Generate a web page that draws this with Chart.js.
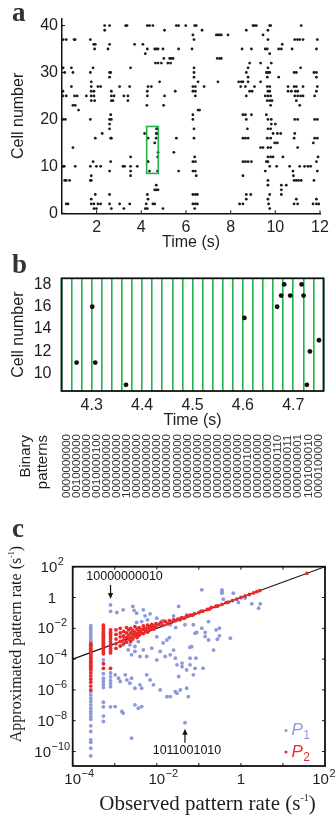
<!DOCTYPE html>
<html>
<head>
<meta charset="utf-8">
<script src="https://cdn.jsdelivr.net/npm/chart.js@4.4.1/dist/chart.umd.min.js"></script>
<style>
  html, body { margin: 0; padding: 0; background: #fff; }
  #wrap { position: relative; width: 336px; height: 818px; overflow: hidden; }
  canvas { position: absolute; left: 0; }
</style>
</head>
<body>
<div id="wrap">
  <canvas id="rasterChart" width="336" height="252" style="top:0px"></canvas>
  <canvas id="windowChart" width="336" height="258" style="top:252px"></canvas>
  <canvas id="rateChart" width="336" height="308" style="top:510px"></canvas>
</div>
<script>
// ---- a: spike raster, one entry per cell: [cell, spike times (s)]
const spikeTrains = [
  [40, [2.36, 2.58, 3.30, 3.36, 4.27, 4.37, 4.52, 5.57, 5.67, 5.99, 6.39, 6.46, 9.0, 9.07, 9.15, 9.75, 9.79, 11.16]],
  [39, [2.36, 5.04, 6.72, 8.7, 9.67]],
  [38, [6.31, 7.36, 7.43, 7.51, 7.58, 7.88, 9.45]],
  [37, [0.5, 0.64, 0.99, 1.04, 1.72, 6.36, 9.67, 10.87, 10.99, 11.09, 11.24, 11.88]],
  [36, [1.87, 1.94, 2.58, 3.7, 4.07, 10.31]],
  [35, [1.91, 2.51, 4.27, 4.6, 4.67, 4.75, 4.97, 5.67, 6.27, 8.51, 8.93, 9.55, 9.64, 10.15, 10.27, 10.75, 11.84]],
  [34, [4.18, 9.75]],
  [33, [5.01, 5.27, 5.34, 5.42, 7.4, 7.51, 7.58]],
  [32, [4.63, 4.75, 4.9, 5.19, 5.31, 8.85, 9.34, 9.82]],
  [31, [0.5, 0.87, 1.84, 3.52, 6.36, 8.78, 9.67, 11.13]],
  [30, [0.57, 0.94, 1.72, 2.58, 2.63, 6.36, 8.7, 9.6, 9.67, 9.75, 10.84, 10.94, 11.73, 11.84]],
  [29, [2.58, 6.36, 8.78, 9.64, 10.15, 11.84]],
  [28, [1.76, 4.82, 6.54, 7.43, 8.36, 8.48, 8.55, 8.78, 9.34]],
  [27, [0.87, 1.76, 2.06, 2.18, 3.03, 3.48, 4.3, 4.45, 6.31, 6.42, 6.81, 8.45, 8.66, 9.07, 9.64, 9.75, 10.57, 10.84, 10.94, 11.24, 11.88]],
  [26, [0.49, 1.76, 1.88, 2.66, 4.27, 5.52, 6.31, 6.42, 8.85, 8.96, 9.67, 9.75, 10.57, 10.72, 10.9, 11.0, 11.84]],
  [25, [0.49, 0.64, 1.01, 1.13, 1.54, 1.76, 1.88, 2.66, 2.78, 3.22, 3.4, 4.27, 5.04, 6.42, 8.7, 9.55, 9.67, 9.79, 10.87, 11.0, 11.13, 11.24, 11.76]],
  [24, [1.76, 1.91, 2.66, 2.73, 3.4, 9.64, 9.75, 9.85, 10.94]],
  [23, [0.94, 1.04, 4.25, 5.0, 9.79, 11.09]],
  [22, [1.19, 6.54, 6.61]],
  [21, [2.63, 6.31, 8.55, 8.66, 8.93, 9.6]],
  [20, [0.49, 0.6, 1.72, 2.58, 2.66, 6.31, 8.7, 9.67, 9.82, 10.87, 11.0, 11.76, 11.88]],
  [19, [2.58, 9.82, 10.0]],
  [18, [2.58, 6.36, 8.75, 9.67, 9.79]],
  [17, [2.25, 4.15, 9.9, 10.09, 10.24, 10.87]],
  [16, [1.94, 2.63, 2.66, 5.57, 6.36, 8.55, 8.66, 8.78, 9.64, 9.79, 10.84, 11.76, 11.88]],
  [15, [9.97, 10.09, 11.7]],
  [14, [0.94, 9.34, 9.45, 9.67, 9.79, 11.0]],
  [13, [5.46]],
  [12, [3.52, 6.39, 9.67, 9.79, 9.9, 10.34, 11.91]],
  [11, [1.84, 2.63, 6.31, 6.42, 8.55, 8.66, 8.78, 8.93, 9.6, 9.67, 11.84]],
  [10, [0.5, 0.55, 1.04, 1.72, 1.99, 2.18, 3.18, 3.25, 3.52, 3.82, 9.75, 10.06, 10.64, 11.09, 11.31, 11.46, 11.58]],
  [9, [2.58, 3.52, 5.67, 6.31, 6.42, 9.55, 10.79, 11.88]],
  [8, [1.76, 3.52, 6.46, 8.55, 10.81]],
  [7, [0.57, 0.64, 0.79, 1.72, 1.76, 9.67, 10.84, 10.94, 11.04, 11.16, 11.73]],
  [6, [4.67, 9.67, 10.27, 10.49]],
  [5, [4.6, 4.67, 4.75, 10.27]],
  [4, [1.94, 2.58, 4.27, 6.31, 6.42, 6.51, 8.7, 8.9, 9.75, 10.27]],
  [3, [1.76, 4.3, 8.7, 9.67, 10.94, 11.84]],
  [2, [0.64, 0.72, 1.76, 1.88, 2.06, 2.18, 2.58, 3.03, 3.48, 4.22, 4.52, 4.6, 6.31, 6.42, 6.51, 8.4, 8.55, 9.7, 10.84, 11.0, 11.69, 11.84, 11.94]],
  [1, [1.88, 1.99, 2.66, 3.22, 4.18, 4.27, 4.97, 6.39, 9.75]]
];
// spikes inside the green window, shown enlarged in b: [time, cell]
const windowSpikes = [
  [4.27, 11], [4.301, 16], [4.307, 11], [4.368, 9], [4.603, 15], [4.668, 16], [4.676, 17],
  [4.682, 18], [4.694, 17], [4.7165, 18], [4.7205, 17], [4.727, 9], [4.733, 12], [4.751, 13]
];
const timeTicksA = [2, 4, 6, 8, 10, 12];
const cellTicksA = [0, 10, 20, 30, 40];
const windowRange = [4.24, 4.76];
const windowCells = [8.5, 18.5];
const binWidth = 0.02;
const timeTicksB = [4.3, 4.4, 4.5, 4.6, 4.7];
const cellTicksB = [10, 12, 14, 16, 18];
// one 10-bit word per 20 ms bin, cell 9 first
const binPatterns = [
  '0000000000', '0010000000', '0000000000', '0010000100', '0000000000', '0000000000',
  '1000000000', '0000000000', '0000000000', '0000000000', '0000000000', '0000000000',
  '0000000000', '0000000000', '0000000000', '0000000000', '0000000000', '0000000000',
  '0000001000', '0000000000', '0000000000', '0000000110', '0000000011', '0000000001',
  '1001000010', '0000100000'
];

// ---- c: [log10 observed rate, log10 approximated rate]
const p1Rates = [
  [-3.57, -1.82], [-3.57, -1.99], [-3.57, -2.14], [-3.57, -2.32], [-3.57, -2.49], [-3.57, -2.66], [-3.57, -2.84], [-3.57, -3.0],
  [-3.57, -6.1], [-3.57, -6.32], [-3.57, -6.54], [-3.57, -6.75], [-3.57, -6.97], [-3.57, -7.19], [-3.57, -7.4], [-3.57, -7.55],
  [-3.57, -7.73], [-3.57, -7.9], [-3.57, -8.33], [-3.57, -8.7], [-3.57, -9.24], [-3.57, -9.4], [-3.57, -9.78], [-3.57, -10.28],
  [-3.27, -4.05], [-3.27, -4.95], [-3.27, -5.25], [-3.27, -5.45], [-3.27, -5.65], [-3.27, -5.85], [-3.27, -6.8], [-3.27, -7.1],
  [-3.27, -7.7], [-3.27, -8.05],
  [-3.1, -0.48], [-3.1, -0.9], [-3.1, -4.9], [-3.1, -5.15], [-3.1, -5.4], [-3.1, -5.6], [-3.1, -5.8], [-3.1, -7.1],
  [-2.95, -0.97], [-2.8, -0.8], [-2.57, -0.58], [-2.54, -0.84], [-2.48, -1.02], [-2.32, -0.8], [-2.28, -1.19], [-2.22, -1.45],
  [-2.16, -1.06], [-2.36, -1.56], [-2.48, -1.62], [-2.0, -1.34], [-1.92, -1.77], [-1.68, -1.77], [-1.48, -0.58], [-1.29, -1.13],
  [-1.44, -1.34], [-1.33, -1.77], [-1.85, -1.5], [-1.6, -1.2], [-1.55, -1.95],
  [-2.8, -3.07], [-2.68, -3.4], [-2.6, -3.72], [-2.52, -3.5], [-2.4, -3.83], [-2.32, -3.4], [-2.24, -3.83], [-2.12, -3.29],
  [-2.0, -4.05], [-1.92, -3.5], [-1.8, -3.83], [-1.68, -3.72], [-1.56, -3.94], [-1.52, -4.37], [-1.4, -4.26], [-1.29, -4.7],
  [-1.21, -4.37], [-1.13, -5.02], [-2.64, -3.07], [-2.52, -3.18], [-2.44, -2.86], [-2.75, -2.75], [-2.0, -2.55], [-1.85, -2.95],
  [-1.7, -2.6],
  [-2.99, -5.02], [-2.91, -5.24], [-2.87, -5.45], [-2.75, -5.02], [-2.71, -5.35], [-2.64, -5.56], [-2.6, -5.24], [-2.52, -5.89],
  [-2.4, -5.67], [-2.36, -5.89], [-2.24, -5.02], [-2.16, -5.35], [-2.08, -5.67], [-1.92, -6.0], [-1.68, -6.43], [-1.52, -6.21],
  [-1.29, -5.89], [-1.48, -5.13], [-1.76, -6.44], [-1.56, -6.12], [-1.44, -6.0], [-1.25, -6.44],
  [-2.99, -7.08], [-2.83, -7.4], [-2.8, -7.5], [-2.52, -6.97], [-2.44, -7.19], [-2.36, -7.08], [-2.6, -9.13], [-1.33, -8.13],
  [-0.93, 0.5], [-0.45, 0.5], [-0.45, 0.28], [-0.45, 0.39], [-0.18, 0.28], [0.1, -0.04], [0.26, -0.41], [0.46, -0.41],
  [0.42, -0.69], [-0.06, -0.32], [-0.42, -0.11], [-0.77, -1.56], [-1.13, -1.77], [-1.09, -2.32], [-1.05, -2.27], [-0.93, -1.99],
  [-0.85, -2.27], [-0.85, -2.53], [-0.59, -2.1], [-0.51, -1.99], [-0.51, -2.49], [-0.56, -2.71], [-0.25, -2.64], [-1.21, -3.94],
  [-1.07, -3.94], [-0.9, -4.59], [-1.21, -3.23], [-1.17, -3.19], [-1.4, -4.49], [-1.09, -4.6], [-1.76, -2.76], [-1.6, -3.41],
  [-0.77, -2.76], [-0.65, -3.41]
];
const p2Rates = [
  [-3.57, -3.0], [-3.57, -3.1], [-3.57, -3.2], [-3.57, -3.3], [-3.57, -3.4], [-3.57, -3.5], [-3.57, -3.6], [-3.57, -3.7],
  [-3.57, -3.8], [-3.57, -3.9], [-3.57, -4.0], [-3.57, -4.1], [-3.57, -4.2], [-3.57, -4.3], [-3.57, -4.4], [-3.57, -4.5],
  [-3.57, -4.6], [-3.57, -4.7], [-3.57, -4.9], [-3.57, -5.1], [-3.57, -5.3], [-3.57, -5.5], [-3.57, -5.75], [-3.57, -6.0],
  [-3.27, -1.8], [-3.27, -1.95], [-3.27, -2.05], [-3.27, -2.2], [-3.27, -2.3], [-3.27, -2.4], [-3.27, -2.5], [-3.27, -2.6],
  [-3.27, -2.7], [-3.27, -2.8], [-3.27, -2.9], [-3.27, -3.0], [-3.27, -3.1], [-3.27, -3.2], [-3.27, -3.35], [-3.27, -3.5],
  [-3.27, -3.65], [-3.27, -4.3], [-3.27, -4.6],
  [-3.1, -2.1], [-3.1, -2.25], [-3.1, -2.4], [-3.1, -2.55], [-3.1, -2.7], [-3.1, -2.85], [-3.1, -3.0], [-3.1, -3.15],
  [-3.1, -3.3], [-3.1, -3.45], [-3.1, -3.6], [-3.1, -4.6],
  [-2.97, -2.1], [-2.97, -2.4], [-2.97, -2.7], [-2.97, -3.0], [-2.97, -3.3],
  [-2.87, -2.0], [-2.87, -2.3], [-2.87, -2.55], [-2.87, -2.85], [-2.87, -3.15],
  [-2.79, -2.2], [-2.79, -2.5], [-2.79, -2.75], [-2.79, -3.0],
  [-2.72, -1.95], [-2.72, -2.3], [-2.72, -2.6], [-2.72, -2.9],
  [-2.67, -2.1], [-2.67, -2.45], [-2.67, -2.7],
  [-2.62, -2.0], [-2.62, -2.3], [-2.62, -2.6], [-2.62, -2.85],
  [-2.57, -2.15], [-2.57, -2.4], [-2.57, -2.7],
  [-2.52, -1.9], [-2.52, -2.25], [-2.52, -2.5],
  [-2.47, -2.05], [-2.47, -2.35], [-2.47, -2.6],
  [-2.42, -1.95], [-2.42, -2.2], [-2.42, -2.45],
  [-2.37, -2.1], [-2.37, -2.3],
  [-2.32, -1.85], [-2.32, -2.05], [-2.32, -2.35],
  [-2.27, -2.0], [-2.27, -2.2],
  [-2.22, -1.8], [-2.22, -2.05], [-2.22, -2.25],
  [-2.17, -1.9], [-2.17, -2.1],
  [-2.12, -1.75], [-2.12, -1.95],
  [-2.07, -1.85], [-2.07, -2.05],
  [-2.02, -1.7], [-2.02, -1.9],
  [-1.95, -1.75], [-1.9, -1.6], [-1.85, -1.8], [-1.8, -1.55], [-1.75, -1.7], [-1.7, -1.5], [-1.65, -1.6], [-1.6, -1.45],
  [-1.55, -1.5], [-1.5, -1.4], [-1.45, -1.45], [-1.4, -1.3], [-1.35, -1.35], [-1.3, -1.25], [-1.25, -1.2], [-1.2, -1.15],
  [-1.15, -1.15], [-1.1, -1.05], [-1.0, -0.98], [-0.95, -0.9], [-0.9, -0.88], [-0.8, -0.78], [-0.75, -0.75], [-0.7, -0.65],
  [-0.6, -0.58], [-0.55, -0.55], [-0.45, -0.44], [-0.35, -0.33], [-0.3, -0.3], [-0.2, -0.2], [-0.1, -0.1], [0.0, 0.0],
  [0.1, 0.1], [0.2, 0.2], [0.3, 0.3], [0.38, 0.38], [0.45, 0.45], [1.57, 1.57]
];
const rateTicksX = [-4, -3, -2, -1, 0, 1, 2];
const rateLabelsX = [-4, -2, 0, 2];
const rateTicksY = [2, 0, -2, -4, -6, -8, -10];
const identityLine = [1e-4, 100];
const markedPatterns = [
  { text: '10000000010', at: [-3.1, -0.48], dir: 'down' },
  { text: '1011001010', at: [-1.33, -8.13], dir: 'up' }
];

const SANS = "'Liberation Sans', Arial, Helvetica, sans-serif";
const SERIF = "'Liberation Serif', 'Times New Roman', serif";
const green = '#22b14c';
const blue = '#8c99db';
const red = '#ea2a2a';
Chart.defaults.font.family = SANS;
Chart.defaults.color = '#1e1e1e';

function fixedTicks(values) {
  return axis => { axis.ticks = values.map(v => ({ value: v })); };
}

function panelLetter(ctx, letter, x, y) {
  ctx.save();
  ctx.font = 'bold 27px ' + SERIF;
  ctx.fillStyle = '#333';
  ctx.textAlign = 'left';
  ctx.textBaseline = 'alphabetic';
  ctx.fillText(letter, x, y);
  ctx.restore();
}

// text made of pieces with own font and vertical shift; x = centre, y = baseline
function drawRich(ctx, parts, x, y) {
  let total = 0;
  parts.forEach(p => { ctx.font = p[1]; total += ctx.measureText(p[0]).width; });
  let cx = x - total / 2;
  ctx.textAlign = 'left';
  ctx.textBaseline = 'alphabetic';
  parts.forEach(p => {
    ctx.font = p[1];
    ctx.fillText(p[0], cx, y + (p[2] || 0));
    cx += ctx.measureText(p[0]).width;
  });
}

// ---------------- a
const rasterPoints = [];
spikeTrains.forEach(([cell, times]) => times.forEach(t => rasterPoints.push({ x: t, y: cell })));
windowSpikes.forEach(([t, cell]) => rasterPoints.push({ x: t, y: cell }));

const rasterExtras = {
  id: 'rasterExtras',
  afterDraw(chart) {
    const { ctx, chartArea, scales } = chart;
    ctx.save();
    // window box
    const x1 = scales.x.getPixelForValue(windowRange[0]);
    const x2 = scales.x.getPixelForValue(windowRange[1]);
    const y1 = scales.y.getPixelForValue(windowCells[1]);
    const y2 = scales.y.getPixelForValue(windowCells[0]);
    ctx.strokeStyle = green;
    ctx.lineWidth = 1.6;
    ctx.strokeRect(x1, y1, x2 - x1, y2 - y1);
    // inward tick marks
    ctx.strokeStyle = '#111';
    ctx.lineWidth = 1;
    ctx.beginPath();
    timeTicksA.forEach(v => {
      const px = scales.x.getPixelForValue(v);
      ctx.moveTo(px, chartArea.bottom); ctx.lineTo(px, chartArea.bottom - 3);
    });
    cellTicksA.forEach(v => {
      const py = scales.y.getPixelForValue(v);
      ctx.moveTo(chartArea.left, py); ctx.lineTo(chartArea.left + 3, py);
    });
    ctx.stroke();
    ctx.restore();
    panelLetter(ctx, 'a', 12, 21);
  }
};

new Chart(document.getElementById('rasterChart'), {
  type: 'scatter',
  data: {
    datasets: [{
      data: rasterPoints,
      pointRadius: 1.4,
      pointHoverRadius: 1.4,
      backgroundColor: '#1c1c1c',
      borderWidth: 0
    }]
  },
  options: {
    responsive: false,
    animation: false,
    devicePixelRatio: 1,
    events: [],
    layout: { padding: { top: 18.5, right: 16, left: 0, bottom: 0 } },
    plugins: { legend: { display: false }, tooltip: { enabled: false } },
    scales: {
      x: {
        type: 'linear', min: 0.45, max: 12,
        afterBuildTicks: fixedTicks(timeTicksA),
        afterFit: s => { s.height = 38.7; },
        grid: { display: false, drawTicks: false },
        border: { color: '#111', width: 1.5 },
        ticks: { font: { size: 16 }, padding: 5, maxRotation: 0, autoSkip: false },
        title: { display: true, text: 'Time (s)', font: { size: 16 }, padding: 0 }
      },
      y: {
        type: 'linear', min: 0, max: 41.5,
        afterBuildTicks: fixedTicks(cellTicksA),
        afterFit: s => { s.width = 62; },
        grid: { display: false, drawTicks: false },
        border: { color: '#111', width: 1.5 },
        ticks: { font: { size: 16 }, padding: 4 },
        title: { display: true, text: 'Cell number', font: { size: 16 }, padding: { top: 9, bottom: 0 } }
      }
    }
  },
  plugins: [rasterExtras]
});

// ---------------- b
const binEdges = [];
for (let k = 0; k <= binPatterns.length; k++) binEdges.push(+(windowRange[0] + k * binWidth).toFixed(2));

const windowExtras = {
  id: 'windowExtras',
  afterDraw(chart) {
    const { ctx, chartArea, scales } = chart;
    ctx.save();
    ctx.strokeStyle = '#111';
    ctx.lineWidth = 1.8;
    ctx.strokeRect(chartArea.left, chartArea.top, chartArea.right - chartArea.left, chartArea.bottom - chartArea.top);

    // binary words, one rotated column per bin
    ctx.fillStyle = '#303030';
    ctx.font = '11.5px ' + SANS;
    ctx.textBaseline = 'middle';
    ctx.textAlign = 'left';
    binPatterns.forEach((word, k) => {
      const xc = (scales.x.getPixelForValue(binEdges[k]) + scales.x.getPixelForValue(binEdges[k + 1])) / 2;
      ctx.save();
      ctx.translate(xc, 246);
      ctx.rotate(-Math.PI / 2);
      ctx.fillText(word, 0, 0);
      ctx.restore();
    });

    // row label
    ctx.fillStyle = '#1e1e1e';
    ctx.font = '15px ' + SANS;
    ctx.textAlign = 'right';
    ctx.textBaseline = 'alphabetic';
    [['Binary', 29.5], ['patterns', 47]].forEach(([txt, bx]) => {
      ctx.save();
      ctx.translate(bx, 183);
      ctx.rotate(-Math.PI / 2);
      ctx.fillText(txt, 0, 0);
      ctx.restore();
    });
    ctx.restore();
    panelLetter(ctx, 'b', 12, 21);
  }
};

new Chart(document.getElementById('windowChart'), {
  type: 'scatter',
  data: {
    datasets: [{
      data: windowSpikes.map(([t, c]) => ({ x: t, y: c })),
      pointRadius: 2.4,
      pointHoverRadius: 2.4,
      backgroundColor: '#111',
      borderWidth: 0
    }]
  },
  options: {
    responsive: false,
    animation: false,
    devicePixelRatio: 1,
    events: [],
    layout: { padding: { top: 26.3, right: 12.5, left: 0, bottom: 80 } },
    plugins: { legend: { display: false }, tooltip: { enabled: false } },
    scales: {
      x: {
        type: 'linear', min: windowRange[0], max: windowRange[1],
        afterBuildTicks: fixedTicks(binEdges),
        afterFit: s => { s.height = 39; },
        grid: { display: true, drawTicks: false, color: green, lineWidth: 1.6 },
        border: { display: false },
        ticks: {
          font: { size: 16 }, padding: 5, maxRotation: 0, autoSkip: false,
          callback: v => timeTicksB.some(l => Math.abs(l - v) < 1e-6) ? v.toFixed(1) : ''
        },
        title: { display: true, text: 'Time (s)', font: { size: 16 }, padding: 0 }
      },
      y: {
        type: 'linear', min: 8.45, max: 18.55,
        afterBuildTicks: fixedTicks(cellTicksB),
        afterFit: s => { s.width = 61.5; },
        grid: { display: false, drawTicks: false },
        border: { display: false },
        ticks: { font: { size: 16 }, padding: 10 },
        title: { display: true, text: 'Cell number', font: { size: 16 }, padding: { top: 9, bottom: 0 } }
      }
    }
  },
  plugins: [windowExtras]
});

// ---------------- c
function drawPower(ctx, exp, x, y, centred) {
  const big = '15px ' + SANS, small = '11px ' + SANS;
  ctx.textBaseline = 'middle';
  if (exp === 0) {
    ctx.font = big; ctx.textAlign = 'center'; ctx.fillText('1', x, y); return;
  }
  ctx.textAlign = 'left';
  ctx.font = big;
  const bw = ctx.measureText('10').width;
  const sup = (exp < 0 ? '\u2212' : '') + Math.abs(exp);
  ctx.font = small;
  const sw = ctx.measureText(sup).width;
  let left = centred ? x - (bw + sw) / 2 : x - bw / 2;
  if (left + bw + sw > 335) left = 335 - bw - sw;
  ctx.font = big; ctx.fillText('10', left, y);
  ctx.font = small; ctx.fillText(sup, left + bw + 0.5, y - 6);
}

const rateExtras = {
  id: 'rateExtras',
  afterDraw(chart) {
    const { ctx, chartArea: a, scales } = chart;
    ctx.save();
    ctx.strokeStyle = '#111';
    ctx.lineWidth = 1.8;
    ctx.strokeRect(a.left, a.top, a.right - a.left, a.bottom - a.top);

    // inward ticks on all four sides
    ctx.lineWidth = 1;
    ctx.beginPath();
    rateTicksX.forEach(e => {
      const px = scales.x.getPixelForValue(Math.pow(10, e));
      ctx.moveTo(px, a.bottom); ctx.lineTo(px, a.bottom - 3);
      ctx.moveTo(px, a.top); ctx.lineTo(px, a.top + 3);
    });
    rateTicksY.forEach(e => {
      const py = scales.y.getPixelForValue(Math.pow(10, e));
      ctx.moveTo(a.left, py); ctx.lineTo(a.left + 3, py);
      ctx.moveTo(a.right, py); ctx.lineTo(a.right - 3, py);
    });
    ctx.stroke();

    // tick labels
    ctx.fillStyle = '#1e1e1e';
    rateLabelsX.forEach(e => drawPower(ctx, e, scales.x.getPixelForValue(Math.pow(10, e)), 270, false));
    rateTicksY.forEach(e => drawPower(ctx, e, 52, scales.y.getPixelForValue(Math.pow(10, e)) + 1, true));

    // axis titles
    drawRich(ctx, [['Observed pattern rate (s', '21px ' + SERIF], ['-1', '10px ' + SERIF, -9], [')', '21px ' + SERIF]], 207.5, 300);
    ctx.save();
    ctx.translate(21, 134);
    ctx.rotate(-Math.PI / 2);
    drawRich(ctx, [['Approximated pattern rate (s', '16px ' + SERIF], ['-1', '8px ' + SERIF, -7], [')', '16px ' + SERIF]], 0, 0);
    ctx.restore();

    // marked patterns with arrows
    ctx.strokeStyle = '#111';
    ctx.fillStyle = '#111';
    ctx.lineWidth = 1.2;
    markedPatterns.forEach(m => {
      const px = scales.x.getPixelForValue(Math.pow(10, m.at[0]));
      const py = scales.y.getPixelForValue(Math.pow(10, m.at[1]));
      const s = m.dir === 'down' ? -1 : 1;
      const tip = py + s * 6, tail = py + s * 20;
      ctx.beginPath(); ctx.moveTo(px, tail); ctx.lineTo(px, tip + s * 4); ctx.stroke();
      ctx.beginPath(); ctx.moveTo(px, tip); ctx.lineTo(px - 2.6, tip + s * 6); ctx.lineTo(px + 2.6, tip + s * 6); ctx.closePath(); ctx.fill();
      ctx.font = '12.5px ' + SANS;
      ctx.textAlign = 'center';
      ctx.textBaseline = 'middle';
      const tx = m.dir === 'down' ? px + 14 : px + 2;
      ctx.fillText(m.text, tx, py + s * 28);
    });

    // legend
    [['1', blue, 225], ['2', red, 246.5]].forEach(([sub, col, base]) => {
      ctx.fillStyle = col;
      ctx.beginPath(); ctx.arc(286, base - 4.5, 1.5, 0, Math.PI * 2); ctx.fill();
      ctx.textAlign = 'left';
      ctx.textBaseline = 'alphabetic';
      ctx.font = 'italic 17px ' + SANS;
      ctx.fillText('P', 291.5, base);
      const w = ctx.measureText('P').width;
      ctx.font = '12px ' + SANS;
      ctx.fillText(sub, 291.5 + w + 0.5, base + 4);
    });
    ctx.restore();
    panelLetter(ctx, 'c', 12, 27);
  }
};

new Chart(document.getElementById('rateChart'), {
  type: 'scatter',
  data: {
    datasets: [
      {
        label: 'P2',
        data: p2Rates.map(([lx, ly]) => ({ x: Math.pow(10, lx), y: Math.pow(10, ly) })),
        pointRadius: 1.9, pointHoverRadius: 1.9, backgroundColor: red, borderWidth: 0
      },
      {
        label: 'identity',
        data: identityLine.map(v => ({ x: v, y: v })),
        showLine: true, borderColor: '#151515', borderWidth: 1.2, pointRadius: 0, fill: false
      },
      {
        label: 'P1',
        data: p1Rates.map(([lx, ly]) => ({ x: Math.pow(10, lx), y: Math.pow(10, ly) })),
        pointRadius: 1.9, pointHoverRadius: 1.9, backgroundColor: blue, borderWidth: 0
      }
    ]
  },
  options: {
    responsive: false,
    animation: false,
    devicePixelRatio: 1,
    events: [],
    layout: { padding: { top: 56.7, right: 11, left: 0, bottom: 0 } },
    plugins: { legend: { display: false }, tooltip: { enabled: false } },
    scales: {
      x: {
        type: 'logarithmic', min: 1e-4, max: 100,
        afterBuildTicks: axis => { axis.ticks = rateTicksX.map(e => ({ value: Math.pow(10, e) })); },
        afterFit: s => { s.height = 52; },
        grid: { display: false, drawTicks: false },
        border: { display: false },
        ticks: { display: false }
      },
      y: {
        type: 'logarithmic', min: 1.15e-11, max: 100,
        afterBuildTicks: axis => { axis.ticks = rateTicksY.map(e => ({ value: Math.pow(10, e) })); },
        afterFit: s => { s.width = 72.7; },
        grid: { display: false, drawTicks: false },
        border: { display: false },
        ticks: { display: false }
      }
    }
  },
  plugins: [rateExtras]
});
</script>
</body>
</html>
